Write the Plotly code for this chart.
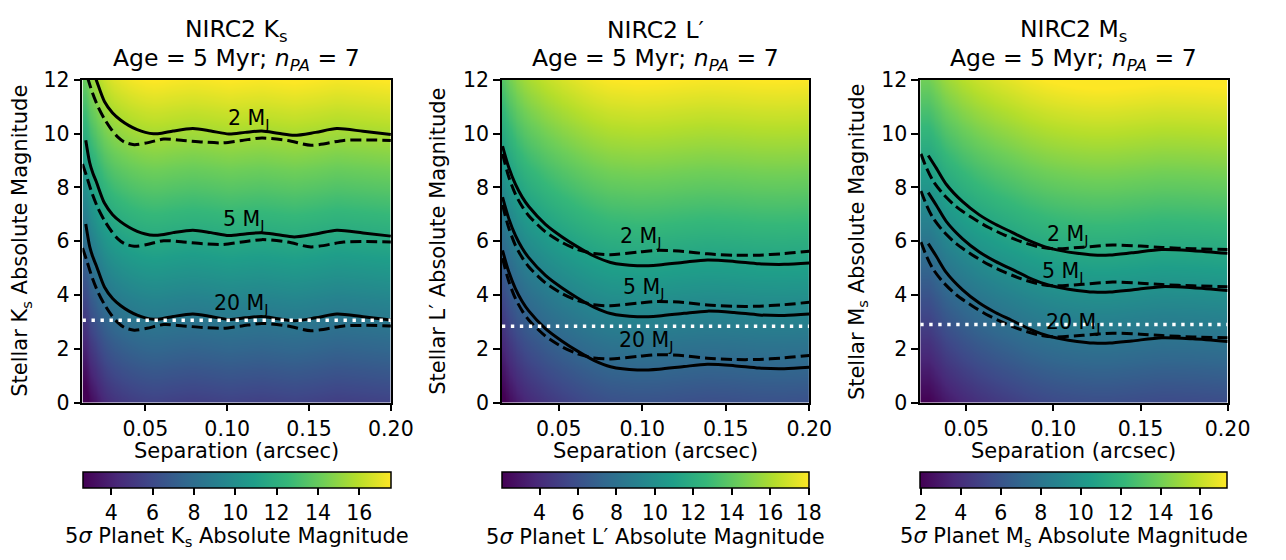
import numpy as np
import plotly.graph_objects as go

W, H = 1286, 560
FONT = "DejaVu Sans"

masses = [2, 5, 20]

# ---- NIRC2 Ks ----
ks_sep_solid = [0.0136, 0.016, 0.018, 0.020, 0.025, 0.030, 0.035, 0.040, 0.045, 0.050,
                0.055, 0.060, 0.067, 0.079, 0.090, 0.101, 0.111, 0.121, 0.131, 0.141,
                0.154, 0.167, 0.183, 0.200]
ks_con_solid = [2.01, 2.85, 3.25, 3.55, 4.35, 4.78, 5.05, 5.25, 5.40, 5.50,
                5.55, 5.53, 5.45, 5.36, 5.45, 5.56, 5.50, 5.45, 5.53, 5.61,
                5.50, 5.36, 5.46, 5.58]
ks_sep_dash = [0.0116, 0.0142, 0.0175, 0.0212, 0.025, 0.0292, 0.0332, 0.0372, 0.0432, 0.051,
               0.0612, 0.0732, 0.085, 0.0972, 0.109, 0.1212, 0.137, 0.1512, 0.1712, 0.185, 0.200]
ks_con_dash = [2.90, 3.37, 4.00, 4.56, 5.00, 5.39, 5.68, 5.86, 5.96, 5.89,
               5.75, 5.80, 5.86, 5.89, 5.80, 5.71, 5.80, 5.98, 5.80, 5.78, 5.80]
ks_planet_mag = [15.55, 11.77, 8.65]
ks_star_mag = 3.06
ks_cbar = [2.62, 17.52]
ks_cticks = [4, 6, 8, 10, 12, 14, 16]
ks_xmin = 0.0116
ks_label_pos = [(0.113, 10.55), (0.110, 6.80), (0.109, 3.66)]

# ---- NIRC2 L' ----
lp_sep_solid = [0.0163, 0.020, 0.024, 0.028, 0.032, 0.042, 0.052, 0.061, 0.071, 0.081,
                0.097, 0.110, 0.125, 0.139, 0.155, 0.170, 0.185, 0.200]
lp_con_solid = [1.66, 2.45, 3.08, 3.55, 3.91, 4.57, 5.04, 5.40, 5.75, 5.99,
                6.11, 6.08, 5.98, 5.90, 5.95, 6.04, 6.06, 6.01]
lp_sep_dash = [0.0163, 0.020, 0.024, 0.028, 0.032, 0.042, 0.052, 0.061, 0.071, 0.081,
               0.098, 0.109, 0.125, 0.139, 0.155, 0.168, 0.185, 0.200]
lp_con_dash = [1.95, 2.80, 3.45, 3.90, 4.25, 4.85, 5.25, 5.50, 5.66, 5.70,
               5.60, 5.54, 5.58, 5.67, 5.72, 5.72, 5.66, 5.57]
lp_planet_mag = [11.20, 9.30, 7.32]
lp_star_mag = 2.84
lp_cbar = [2.05, 18.02]
lp_cticks = [4, 6, 8, 10, 12, 14, 16, 18]
lp_xmin = 0.0159
lp_label_pos = [(0.0988, 6.16), (0.1006, 4.26), (0.1024, 2.30)]

# ---- NIRC2 Ms ----
ms_sep_solid = [0.0282, 0.0329, 0.0385, 0.0479, 0.0573, 0.0667, 0.076, 0.0854, 0.0948, 0.1042,
                0.1136, 0.1230, 0.1323, 0.1450, 0.1623, 0.180, 0.200]
ms_con_solid = [1.96, 2.44, 3.03, 3.68, 4.16, 4.52, 4.81, 5.11, 5.35, 5.50,
                5.60, 5.66, 5.66, 5.58, 5.46, 5.50, 5.60]
ms_sep_dash = [0.0240, 0.0273, 0.031, 0.0367, 0.0442, 0.0535, 0.0629, 0.0723, 0.0817, 0.0911,
               0.1004, 0.117, 0.1341, 0.150, 0.1623, 0.180, 0.200]
ms_con_dash = [1.90, 2.44, 2.91, 3.39, 3.86, 4.28, 4.64, 4.93, 5.17, 5.35,
               5.43, 5.37, 5.29, 5.33, 5.38, 5.43, 5.46]
ms_planet_mag = [11.15, 9.77, 7.87]
ms_star_mag = 2.90
ms_cbar = [1.98, 17.35]
ms_cticks = [2, 4, 6, 8, 10, 12, 14, 16]
ms_xmin = 0.0236
ms_label_pos = [(0.1081, 6.22), (0.1053, 4.85), (0.1115, 2.95)]

bands = [
    dict(band="K<sub>s</sub>", sep_s=ks_sep_solid, con_s=ks_con_solid,
         sep_d=ks_sep_dash, con_d=ks_con_dash, mp=ks_planet_mag, star=ks_star_mag,
         cbar=ks_cbar, cticks=ks_cticks, xmin=ks_xmin, labels=ks_label_pos),
    dict(band="L′", sep_s=lp_sep_solid, con_s=lp_con_solid,
         sep_d=lp_sep_dash, con_d=lp_con_dash, mp=lp_planet_mag, star=lp_star_mag,
         cbar=lp_cbar, cticks=lp_cticks, xmin=lp_xmin, labels=lp_label_pos),
    dict(band="M<sub>s</sub>", sep_s=ms_sep_solid, con_s=ms_con_solid,
         sep_d=ms_sep_dash, con_d=ms_con_dash, mp=ms_planet_mag, star=ms_star_mag,
         cbar=ms_cbar, cticks=ms_cticks, xmin=ms_xmin, labels=ms_label_pos),
]

# pixel boxes of the three panels
panel_x = [(84, 398), (511, 824), (937, 1250)]
panel_top, panel_bot = 71, 408
ylab_x = [22, 446.5, 873.5]
TICK = 20.5
LABEL = 21


def fx(px):
    return px / W


def fy(py):
    return 1 - py / H


stellar_grid = np.linspace(0, 12, 61)

fig = go.Figure()
annotations = []
layout_axes = {}

for i, b in enumerate(bands):
    k = "" if i == 0 else str(i + 1)
    xa, ya = "x" + k, "y" + k
    x0, x1 = panel_x[i]
    cx = (x0 + x1) / 2

    # planet magnitude map: stellar magnitude + achieved contrast
    sep_grid = np.linspace(b["xmin"], 0.20, 220)
    contrast = np.interp(sep_grid, b["sep_s"], b["con_s"])
    z = stellar_grid[:, None] + contrast[None, :]

    fig.add_trace(go.Heatmap(
        x=sep_grid, y=stellar_grid, z=z, xaxis=xa, yaxis=ya,
        colorscale="Viridis", zmin=b["cbar"][0], zmax=b["cbar"][1], zsmooth="best",
        hoverinfo="skip",
        colorbar=dict(
            orientation="h", x=fx(cx), xanchor="center", y=fy(480.7), yanchor="top",
            len=(x1 - x0) / W, lenmode="fraction", thickness=16, thicknessmode="pixels",
            xpad=0, ypad=0, outlinecolor="black", outlinewidth=1.5,
            tickmode="array", tickvals=b["cticks"], ticks="outside", ticklen=7,
            tickwidth=1.5, tickcolor="black",
            tickfont=dict(family=FONT, size=TICK, color="black"),
        ),
    ))

    # mass contours: solid and dashed contrast curves
    sep_s = np.array(b["sep_s"])
    sep_d = np.array(b["sep_d"])
    for m, mp in zip(masses, b["mp"]):
        fig.add_trace(go.Scatter(
            x=sep_s, y=mp - np.array(b["con_s"]), xaxis=xa, yaxis=ya, mode="lines",
            line=dict(color="black", width=3, shape="spline", smoothing=0.8),
            hoverinfo="skip", showlegend=False))
        fig.add_trace(go.Scatter(
            x=sep_d, y=mp - np.array(b["con_d"]), xaxis=xa, yaxis=ya, mode="lines",
            line=dict(color="black", width=3, dash="11px,5px", shape="spline", smoothing=0.8),
            hoverinfo="skip", showlegend=False))

    # stellar magnitude of the target
    fig.add_trace(go.Scatter(
        x=[b["xmin"], 0.20], y=[b["star"], b["star"]], xaxis=xa, yaxis=ya, mode="lines",
        line=dict(color="white", width=3.4, dash="3.4px,5.6px"),
        hoverinfo="skip", showlegend=False))

    layout_axes["xaxis" + k] = dict(
        domain=[fx(x0), fx(x1)], anchor=ya, range=[b["xmin"], 0.20],
        tickmode="array", tickvals=[0.05, 0.10, 0.15, 0.20],
        ticktext=["0.05", "0.10", "0.15", "0.20"],
        ticks="outside", ticklen=7, tickwidth=1.5, tickcolor="black",
        showline=True, mirror=True, linecolor="black", linewidth=1.5,
        showgrid=False, zeroline=False,
        tickfont=dict(family=FONT, size=TICK, color="black"))
    layout_axes["yaxis" + k] = dict(
        domain=[fy(panel_bot), fy(panel_top)], anchor=xa, range=[0, 12],
        tickmode="array", tickvals=[0, 2, 4, 6, 8, 10, 12],
        ticks="outside", ticklen=7, tickwidth=1.5, tickcolor="black",
        showline=True, mirror=True, linecolor="black", linewidth=1.5,
        showgrid=False, zeroline=False,
        tickfont=dict(family=FONT, size=TICK, color="black"))

    txt = dict(family=FONT, color="black")
    annotations += [
        dict(text="NIRC2 " + b["band"], x=fx(cx), y=fy(19), xref="paper", yref="paper",
             showarrow=False, xanchor="center", yanchor="middle", font=dict(size=23.5, **txt)),
        dict(text="Age = 5 Myr; <i>n</i><sub><i>PA</i></sub> = 7", x=fx(cx), y=fy(50),
             xref="paper", yref="paper", showarrow=False, xanchor="center", yanchor="middle",
             font=dict(size=23.5, **txt)),
        dict(text="Separation (arcsec)", x=fx(cx), y=fy(459), xref="paper", yref="paper",
             showarrow=False, xanchor="center", yanchor="middle", font=dict(size=LABEL, **txt)),
        dict(text="Stellar " + b["band"] + " Absolute Magnitude", x=fx(ylab_x[i]),
             y=fy((panel_top + panel_bot) / 2), xref="paper", yref="paper", textangle=-90,
             showarrow=False, xanchor="center", yanchor="middle", font=dict(size=LABEL, **txt)),
        dict(text="5<i>σ</i> Planet " + b["band"] + " Absolute Magnitude", x=fx(cx), y=fy(548),
             xref="paper", yref="paper", showarrow=False, xanchor="center", yanchor="middle",
             font=dict(size=LABEL, **txt)),
    ]
    for m, (lx, ly) in zip(masses, b["labels"]):
        annotations.append(dict(
            text=f"{m} M<sub>J</sub>", x=lx, y=ly, xref=xa, yref=ya, showarrow=False,
            xanchor="center", yanchor="middle", font=dict(size=TICK, **txt)))

fig.update_layout(
    width=W, height=H, margin=dict(l=0, r=0, t=0, b=0),
    paper_bgcolor="white", plot_bgcolor="white", showlegend=False,
    annotations=annotations, font=dict(family=FONT, color="black"),
    **layout_axes)

fig.write_html("out.html")
